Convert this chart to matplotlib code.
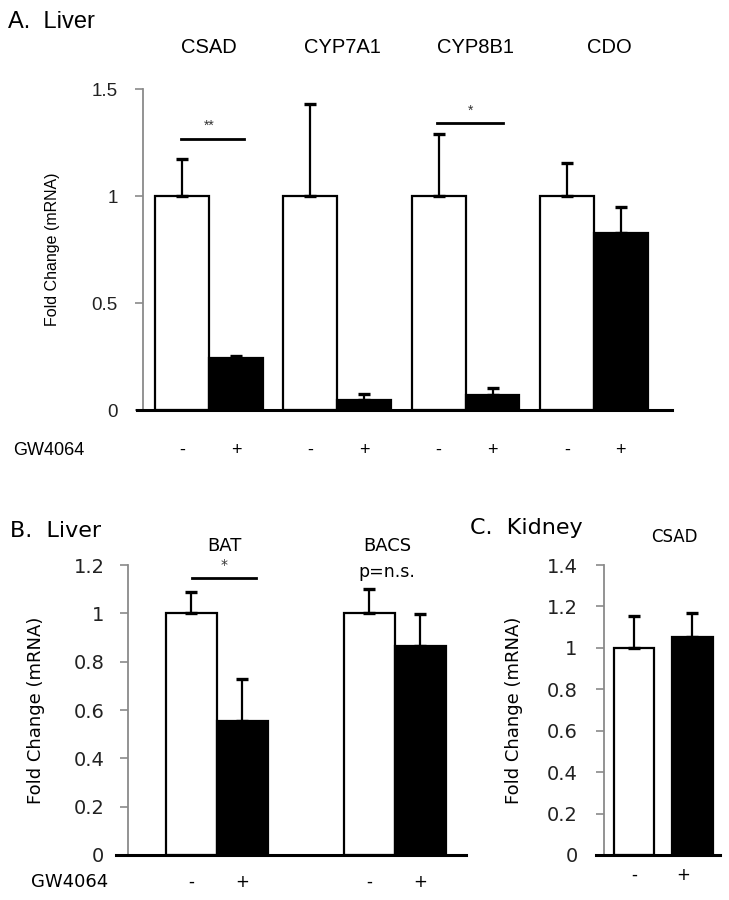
import numpy as np
import matplotlib
matplotlib.use("Agg")
import matplotlib.pyplot as plt
import matplotlib.transforms as mtransforms

# panel A: liver, four genes
genes_a = ["CSAD", "CYP7A1", "CYP8B1", "CDO"]
ctrl_a = [1.0, 1.0, 1.0, 1.0]
ctrl_a_err = [0.173, 0.43, 0.29, 0.155]
gw_a = [0.245, 0.048, 0.072, 0.826]
gw_a_err = [0.008, 0.026, 0.033, 0.124]

# panel B: liver, BAT / BACS
genes_b = ["BAT", "BACS"]
ctrl_b = [1.0, 1.0]
ctrl_b_err = [0.09, 0.10]
gw_b = [0.553, 0.864]
gw_b_err = [0.177, 0.132]

# panel C: kidney CSAD
ctrl_c = [1.0]
ctrl_c_err = [0.155]
gw_c = [1.053]
gw_c_err = [0.117]

treat_labels = ["-", "+"]

ARIAL = "Liberation Sans"
VERD = "DejaVu Sans"
GREY = "#8a8a8a"

fig = plt.figure(figsize=(7.29, 9), dpi=100)


def style_axes(ax, ymax, step, font, tsize, tpad, x0):
    ax.set_ylim(0, ymax)
    ax.set_yticks(np.arange(0, ymax + 1e-9, step))
    ax.set_yticklabels(["%g" % v for v in np.arange(0, ymax + 1e-9, step)],
                       fontfamily=font, fontsize=tsize, color="#222222")
    ax.tick_params(axis="y", direction="out", length=6, width=1.2,
                   color=GREY, pad=tpad)
    ax.set_xticks([])
    for s in ["top", "right", "bottom"]:
        ax.spines[s].set_visible(False)
    ax.spines["left"].set_color(GREY)
    ax.spines["left"].set_linewidth(1.3)
    # black baseline, running a little past the y axis
    ax.plot([x0, 1], [0, 0], color="black", lw=2.2, transform=ax.transAxes,
            clip_on=False, zorder=5)


def draw_bars(ax, x, vals, errs, color, width):
    n = len(vals)
    ax.bar(x, vals, width, color=color, edgecolor="black", linewidth=1.6,
           zorder=2)
    ax.errorbar(x, vals, yerr=[[0] * n, errs], fmt="none", ecolor="black",
                elinewidth=1.6, capsize=4.5, capthick=2.4, zorder=3)


# ---------------- A ----------------
axA = fig.add_axes([0.196, 0.5444, 0.726, 0.3567])
xa = np.arange(len(genes_a))
w = 0.42
draw_bars(axA, xa - w / 2, ctrl_a, ctrl_a_err, "white", w)
draw_bars(axA, xa + w / 2, gw_a, gw_a_err, "black", w)
axA.set_xlim(-0.516, 3.61)
style_axes(axA, 1.5, 0.5, ARIAL, 13.5, 12, -0.011)
axA.set_ylabel("Fold Change (mRNA)", fontfamily=ARIAL, fontsize=11.5)
axA.yaxis.set_label_coords(-0.157, 0.5)
trA = mtransforms.blended_transform_factory(axA.transData, axA.transAxes)
for i, g in enumerate(genes_a):
    axA.text(xa[i] + 0.04 * i, 1.128, g, transform=trA, ha="center",
             va="center", fontfamily=ARIAL, fontsize=14.5)
    axA.text(xa[i] - w / 2, -0.125, treat_labels[0], transform=trA,
             ha="center", va="center", fontfamily=ARIAL, fontsize=13)
    axA.text(xa[i] + w / 2, -0.125, treat_labels[1], transform=trA,
             ha="center", va="center", fontfamily=ARIAL, fontsize=13)
axA.text(-0.11, -0.125, "GW4064", transform=axA.transAxes, ha="right",
         va="center", fontfamily=ARIAL, fontsize=13)
# significance
axA.plot([-0.22, 0.27], [1.266, 1.266], color="black", lw=2, clip_on=False)
axA.text(0.0, 1.33, "**", ha="center", va="center", fontsize=10,
         fontfamily=ARIAL, color="#333333")
axA.plot([2 - 0.22, 2 + 0.29], [1.34, 1.34], color="black", lw=2,
         clip_on=False)
axA.text(2.04, 1.40, "*", ha="center", va="center", fontsize=10,
         fontfamily=ARIAL, color="#333333")

# ---------------- B ----------------
axB = fig.add_axes([0.1756, 0.05, 0.4636, 0.3222])
xb = np.arange(len(genes_b))
wb = 0.287
draw_bars(axB, xb - wb / 2, ctrl_b, ctrl_b_err, "white", wb)
draw_bars(axB, xb + wb / 2, gw_b, gw_b_err, "black", wb)
axB.set_xlim(-0.5, 1.40)
style_axes(axB, 1.2, 0.2, VERD, 14, 11, -0.036)
axB.set_ylabel("Fold Change (mRNA)", fontfamily=VERD, fontsize=13)
axB.yaxis.set_label_coords(-0.246, 0.5)
trB = mtransforms.blended_transform_factory(axB.transData, axB.transAxes)
label_shift_b = [0.04, -0.045]
for i, g in enumerate(genes_b):
    axB.text(xb[i] + label_shift_b[i], 1.28, g, ha="center", va="center",
             fontfamily=VERD, fontsize=13, clip_on=False)
    axB.text(xb[i] - wb / 2, -0.093, treat_labels[0], transform=trB,
             ha="center", va="center", fontfamily=VERD, fontsize=12)
    axB.text(xb[i] + wb / 2, -0.093, treat_labels[1], transform=trB,
             ha="center", va="center", fontfamily=VERD, fontsize=12)
axB.text(-0.059, -0.093, "GW4064", transform=axB.transAxes, ha="right",
         va="center", fontfamily=VERD, fontsize=13)
axB.plot([-0.14, 0.22], [1.145, 1.145], color="black", lw=2, clip_on=False)
axB.text(0.04, 1.20, "*", ha="center", va="center", fontsize=10,
         fontfamily=VERD, color="#333333")
axB.text(1.0 - 0.045, 1.17, "p=n.s.", ha="center", va="center",
         fontsize=12.5, fontfamily=VERD, clip_on=False)

# ---------------- C ----------------
axC = fig.add_axes([0.8285, 0.05, 0.1591, 0.3222])
wc = 0.69
draw_bars(axC, [0], ctrl_c, ctrl_c_err, "white", wc)
draw_bars(axC, [1], gw_c, gw_c_err, "black", wc)
axC.set_xlim(-0.51, 1.47)
style_axes(axC, 1.4, 0.2, VERD, 14, 13, -0.069)
axC.set_ylabel("Fold Change (mRNA)", fontfamily=VERD, fontsize=13)
axC.yaxis.set_label_coords(-0.70, 0.5)
trC = mtransforms.blended_transform_factory(axC.transData, axC.transAxes)
axC.text(0.0, -0.069, treat_labels[0], transform=trC, ha="center",
         va="center", fontfamily=VERD, fontsize=12)
axC.text(0.85, -0.069, treat_labels[1], transform=trC, ha="center",
         va="center", fontfamily=VERD, fontsize=12)
axC.text(0.7, 1.536, "CSAD", ha="center", va="center", fontfamily=VERD,
         fontsize=12, clip_on=False)

# panel letters
fig.text(8 / 729, 1 - 22 / 900, "A.  Liver", fontfamily=ARIAL, fontsize=17,
         va="center", ha="left")
fig.text(10 / 729, 1 - 531 / 900, "B.  Liver", fontfamily=VERD, fontsize=16,
         va="center", ha="left")
fig.text(470 / 729, 1 - 528 / 900, "C.  Kidney", fontfamily=VERD,
         fontsize=16, va="center", ha="left")

fig.savefig("out.png", dpi=100)
